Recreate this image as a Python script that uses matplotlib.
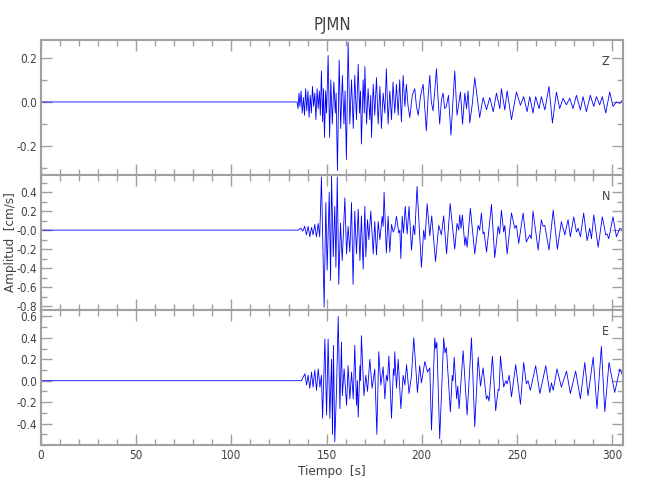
import matplotlib
matplotlib.use("Agg")
import matplotlib.pyplot as plt
from matplotlib.ticker import MultipleLocator

plt.rcParams['font.family'] = ['DejaVu Sans']
plt.rcParams['font.stretch'] = 'condensed'

# componente Z (tiempo [s], amplitud [cm/s]) - extremos
z_t = [0, 134.5,
       135.0, 135.5, 136.0, 136.6, 137.2, 137.8, 138.4, 139.0, 139.6, 140.2,
       140.8, 141.4, 142.0, 142.6, 143.2, 143.8, 144.4, 145.0, 145.6, 146.2,
       146.7, 147.3, 147.9, 148.4, 148.9, 149.5, 150.0, 150.8, 151.6, 152.2,
       153.0, 153.8, 154.6, 155.0, 155.7, 156.6, 157.4, 158.3, 159.1, 159.7,
       160.4, 161.3, 162.2, 163.1, 164.0, 164.8, 165.7, 166.6, 167.3, 167.8,
       168.3, 169.2, 169.8, 170.1, 171.0, 171.8, 172.7, 173.2, 173.6, 174.5,
       175.3, 176.2, 177.1, 178.0, 178.8, 179.7, 180.6, 181.4, 182.3, 183.2,
       184.1, 184.9, 185.8, 186.7, 187.6, 188.4, 189.3, 190.2, 191.1,
       191.9, 192.8, 193.7, 195.0, 196.3, 197.2, 198.1, 199.4, 200.7, 201.6,
       202.4, 203.3, 204.2, 205.0, 205.9, 206.8, 207.7, 208.5, 209.4, 210.3,
       211.2, 212.0, 212.9, 214.0, 215.3, 217.3, 218.5, 220.3, 221.4, 222.6,
       223.5, 224.3, 225.2, 226.5, 227.8, 230.4, 232.2, 234.0, 235.7, 237.5,
       239.2, 241.0, 241.8, 243.6, 244.8, 247.1, 249.7, 251.8, 253.5, 255.3,
       256.7, 258.4, 259.8, 261.6, 262.8, 264.6, 266.8, 268.6, 270.7, 272.4,
       274.2, 275.9, 277.7, 279.4, 281.2, 283.3, 284.7, 286.4, 288.5, 290.3,
       291.7, 293.4, 294.8, 296.6, 298.7, 300.4, 302.2, 304.0, 305.5]
z_v = [0, 0.0,
       -0.03, 0.04, -0.02, 0.05, -0.05, 0.02, -0.06, 0.06, -0.04, 0.05,
       -0.07, 0.03, -0.05, 0.07, -0.02, 0.04, -0.08, 0.06, -0.03, 0.05,
       -0.06, 0.14, -0.09, 0.06, -0.16, 0.05, -0.05, 0.21, -0.16, 0.10,
       -0.10, 0.09, -0.05, 0.04, -0.31, 0.19, -0.12, 0.12, -0.10, 0.05,
       -0.26, 0.27, -0.10, 0.10, -0.12, 0.12, -0.08, 0.17, -0.05, 0.05,
       -0.19, 0.10, -0.05, 0.16, -0.10, 0.06, -0.08, 0.03, -0.16, 0.08,
       -0.06, 0.11, -0.10, 0.07, -0.12, 0.04, -0.05, 0.15, -0.10, 0.05,
       -0.08, 0.09, -0.05, 0.08, -0.06, 0.10, -0.09, 0.12, -0.02,
       0.08, -0.02, -0.07, 0.03, 0.06, -0.02, -0.06, 0.03, 0.08, -0.03,
       -0.13, 0.02, 0.12, 0.00, -0.04, 0.05, 0.15, 0.02, -0.10, 0.01,
       0.04, -0.03, -0.02, 0.03, -0.15, 0.14, -0.06, 0.045, -0.10, 0.04,
       -0.03, 0.05, -0.095, -0.01, 0.11, -0.07, 0.02, -0.035, 0.02, -0.044,
       0.04, -0.03, 0.06, -0.036, 0.05, -0.08, 0.045, -0.015, 0.024, -0.044,
       0.024, -0.05, 0.024, -0.03, 0.024, -0.036, 0.07, -0.095, 0.045, -0.03,
       0.017, -0.013, 0.017, -0.03, 0.03, -0.036, 0.024, -0.044, 0.03, -0.02,
       0.024, -0.013, 0.024, -0.05, 0.045, -0.02, 0.0, -0.006, 0.01]

# componente N
n_t = [0, 135.0,
       136.5, 137.5, 138.5, 139.4, 140.3, 141.2, 142.1, 142.9, 143.8, 144.7,
       145.6, 146.4, 147.3, 148.7, 149.6, 150.3, 151.4, 152.1, 152.6, 153.5,
       154.3, 154.9, 155.6, 156.4, 157.3, 158.2, 159.6, 160.5, 161.3, 162.2,
       163.1, 163.9, 164.8, 165.7, 166.6, 167.5, 168.3, 169.2, 170.1, 170.6,
       171.5, 172.2, 173.2, 174.5, 175.3, 176.2, 177.1, 178.0, 179.2, 179.7,
       180.2, 181.4, 182.3, 183.2, 184.1, 185.0, 185.8, 186.7, 187.9, 188.5,
       189.0, 189.7, 190.4, 191.3, 192.3, 193.3, 194.6, 195.6, 196.3, 197.5,
       199.8, 201.0, 201.7, 202.8, 204.2, 205.2, 207.2, 208.9, 210.3, 211.5,
       213.0, 214.9, 217.3, 218.5, 219.4, 219.9, 220.6, 221.3, 222.6, 223.1,
       223.8, 225.5, 227.8, 229.6, 230.4, 231.3, 232.2, 232.7, 234.0, 236.6,
       238.3, 240.1, 240.9, 241.8, 243.0, 243.6, 244.8, 247.1, 248.8, 249.7,
       250.9, 253.2, 254.9, 256.7, 257.5, 258.4, 261.1, 262.8, 263.7, 264.6,
       266.8, 269.0, 271.2, 273.3, 275.1, 276.8, 278.0, 279.8, 281.2, 282.1,
       283.3, 285.0, 286.8, 288.2, 289.1, 290.3, 292.6, 294.8, 296.6, 297.3,
       298.2, 300.4, 302.2, 304.0, 305.5]
n_v = [0, 0.0,
       0.02, -0.01, 0.04, -0.05, 0.04, -0.07, 0.03, -0.05, 0.06, -0.07,
       0.07, -0.07, 0.56, -0.81, 0.29, -0.42, 0.40, -0.53, 0.57, -0.28,
       0.25, -0.39, 0.56, -0.57, 0.075, -0.32, 0.34, -0.25, 0.04, -0.23,
       0.29, -0.57, 0.20, -0.25, 0.22, -0.32, 0.15, -0.41, 0.25, -0.28,
       0.11, -0.10, 0.20, -0.25, 0.09, -0.26, 0.09, -0.10, 0.147, 0.04,
       0.40, -0.24, 0.147, -0.23, 0.06, -0.02, 0.02, 0.147, -0.03, 0.0,
       -0.30, 0.147, -0.03, 0.25, -0.04, 0.25, -0.21, 0.05, -0.05, 0.46,
       -0.39, 0.0, -0.10, 0.28, -0.06, 0.15, -0.33, 0.05, -0.05, 0.15,
       -0.25, 0.28, -0.20, 0.07, 0.0, 0.16, 0.02, 0.16, -0.16, -0.07,
       -0.18, 0.23, -0.25, 0.05, 0.0, 0.18, -0.04, -0.02, -0.23, 0.27,
       -0.29, 0.04, -0.04, 0.21, -0.02, 0.05, -0.25, 0.18, 0.02, 0.05,
       -0.14, 0.18, -0.125, -0.05, -0.09, 0.20, -0.21, 0.11, 0.04, 0.05,
       -0.21, 0.21, -0.20, 0.09, -0.05, 0.11, -0.07, 0.14, -0.02, 0.02,
       -0.07, 0.18, -0.11, 0.02, -0.09, 0.16, -0.18, 0.14, -0.05, -0.04,
       -0.09, 0.14, -0.07, 0.02, 0.0]

# componente E
e_t = [0, 136.8,
       138.6, 139.5, 140.3, 141.2, 142.1, 142.9, 143.8, 144.7, 145.6, 146.5,
       147.3, 147.9, 149.1, 150.0, 150.8, 151.7, 152.6, 153.1, 153.6, 154.3,
       155.2, 156.1, 157.0, 157.8, 158.3, 159.2, 160.5, 161.3, 162.2, 163.1,
       164.0, 164.8, 165.7, 166.2, 166.6, 167.5, 167.8, 168.3, 169.6, 170.6,
       171.5, 172.7, 173.9, 175.3, 176.4, 177.4, 178.5, 179.7, 180.6, 181.4,
       182.0, 182.7, 184.1, 185.1, 185.5, 185.8, 186.7, 187.6, 189.0, 190.2,
       191.1, 192.0, 193.3, 194.6, 195.8, 197.7, 198.9, 199.8, 201.6, 203.0,
       204.2, 205.1, 206.8, 207.3, 207.9, 209.4, 211.5, 212.2, 212.9, 215.0,
       216.0, 216.4, 217.0, 218.3, 218.9, 219.6, 221.7, 223.8, 226.1, 227.8,
       229.6, 230.8, 232.2, 233.9, 234.6, 235.3, 237.1, 238.8, 240.1, 240.6,
       241.3, 243.0, 244.1, 244.8, 245.9, 247.1, 249.3, 251.8, 253.5, 254.9,
       255.8, 257.0, 259.8, 262.0, 265.1, 267.2, 268.1, 269.0, 271.0, 273.3,
       276.0, 278.0, 280.8, 283.3, 285.6, 287.3, 290.0, 292.0, 294.3, 296.1,
       298.3, 301.3, 304.0, 305.5]
e_v = [0, 0.0,
       0.065, -0.04, 0.05, -0.07, 0.08, -0.06, 0.10, -0.09, 0.11, -0.06,
       0.05, -0.35, 0.39, -0.32, 0.39, -0.35, 0.20, -0.50, 0.33, -0.57,
       -0.10, 0.60, -0.26, 0.36, -0.14, 0.11, -0.23, 0.14, -0.17, 0.08,
       -0.17, 0.33, -0.23, 0.0, -0.34, 0.14, 0.0, 0.42, -0.14, 0.05,
       -0.10, 0.20, -0.07, 0.11, -0.50, 0.27, -0.04, 0.13, -0.17, 0.05,
       0.0, 0.23, -0.35, 0.11, 0.05, 0.27, -0.07, 0.20, -0.26, 0.05,
       -0.04, 0.15, -0.12, 0.05, 0.40, -0.11, 0.14, -0.02, 0.18, 0.08,
       0.12, -0.46, 0.40, 0.30, 0.36, -0.54, 0.40, 0.26, 0.31, -0.29,
       0.05, 0.0, 0.22, -0.17, -0.05, -0.26, 0.28, -0.32, 0.40, -0.43,
       0.22, -0.05, 0.12, -0.17, -0.14, -0.19, 0.23, -0.28, -0.08, -0.09,
       0.23, -0.06, 0.0, -0.03, 0.05, -0.15, 0.15, -0.22, 0.17, -0.03,
       0.0, -0.09, 0.14, -0.12, 0.14, -0.11, -0.02, -0.09, 0.11, -0.06,
       0.09, -0.12, 0.09, -0.17, 0.17, -0.14, 0.22, -0.26, 0.32, -0.29,
       0.17, -0.11, 0.11, 0.05]

componentes = ["Z", "N", "E"]
limites_y = [(-0.33, 0.28), (-0.84, 0.58), (-0.60, 0.66)]
ticks_y = [[-0.2, 0.0, 0.2],
           [-0.8, -0.6, -0.4, -0.2, 0.0, 0.2, 0.4],
           [-0.4, -0.2, 0.0, 0.2, 0.4, 0.6]]
etiquetas_y = [["-0.2", "0.0", "0.2"],
               ["-0.8", "-0.6", "-0.4", "-0.2", "-0.0", "0.2", "0.4"],
               ["-0.4", "-0.2", "0.0", "0.2", "0.4", "0.6"]]
ticks_x = [0, 50, 100, 150, 200, 250, 300]
datos = [(z_t, z_v), (n_t, n_v), (e_t, e_v)]

gris = "#a0a0a0"
texto = "#404040"

fig = plt.figure(figsize=(6.5, 5), dpi=100)
tops = [0.92, 0.65, 0.38]
for i in range(3):
    ax = fig.add_axes([0.063, tops[i] - 0.27, 0.895, 0.27])
    t, v = datos[i]
    ax.plot(t, v, color="#0000ff", linewidth=0.6)
    ax.set_xlim(0, 305.5)
    ax.set_ylim(limites_y[i])
    ax.set_yticks(ticks_y[i])
    ax.set_yticklabels(etiquetas_y[i])
    ax.set_xticks(ticks_x)
    ax.xaxis.set_minor_locator(MultipleLocator(10))
    ax.yaxis.set_minor_locator(MultipleLocator(0.1))
    ax.tick_params(which="both", direction="in", top=True, right=True,
                   color=gris, labelcolor=texto, labelsize=8.5)
    ax.tick_params(which="major", length=8, width=1, pad=3)
    ax.tick_params(which="minor", length=4, width=1)
    for s in ax.spines.values():
        s.set_color(gris)
        s.set_linewidth(1.5)
    if i < 2:
        ax.set_xticklabels([])
    else:
        ax.set_xlabel("Tiempo  [s]", color=texto, fontsize=9.5, labelpad=2)
    if i == 0:
        ax.set_title("PJMN", color=texto, fontsize=12, pad=7)
    ax.text(0.971, 0.84, componentes[i], transform=ax.transAxes,
            color=texto, fontsize=9, ha="center", va="center")

fig.text(11 / 650, 0.515, "Amplitud  [cm/s]", rotation=90, color=texto,
         fontsize=9.5, ha="center", va="center")

fig.savefig("out.png", dpi=100)
